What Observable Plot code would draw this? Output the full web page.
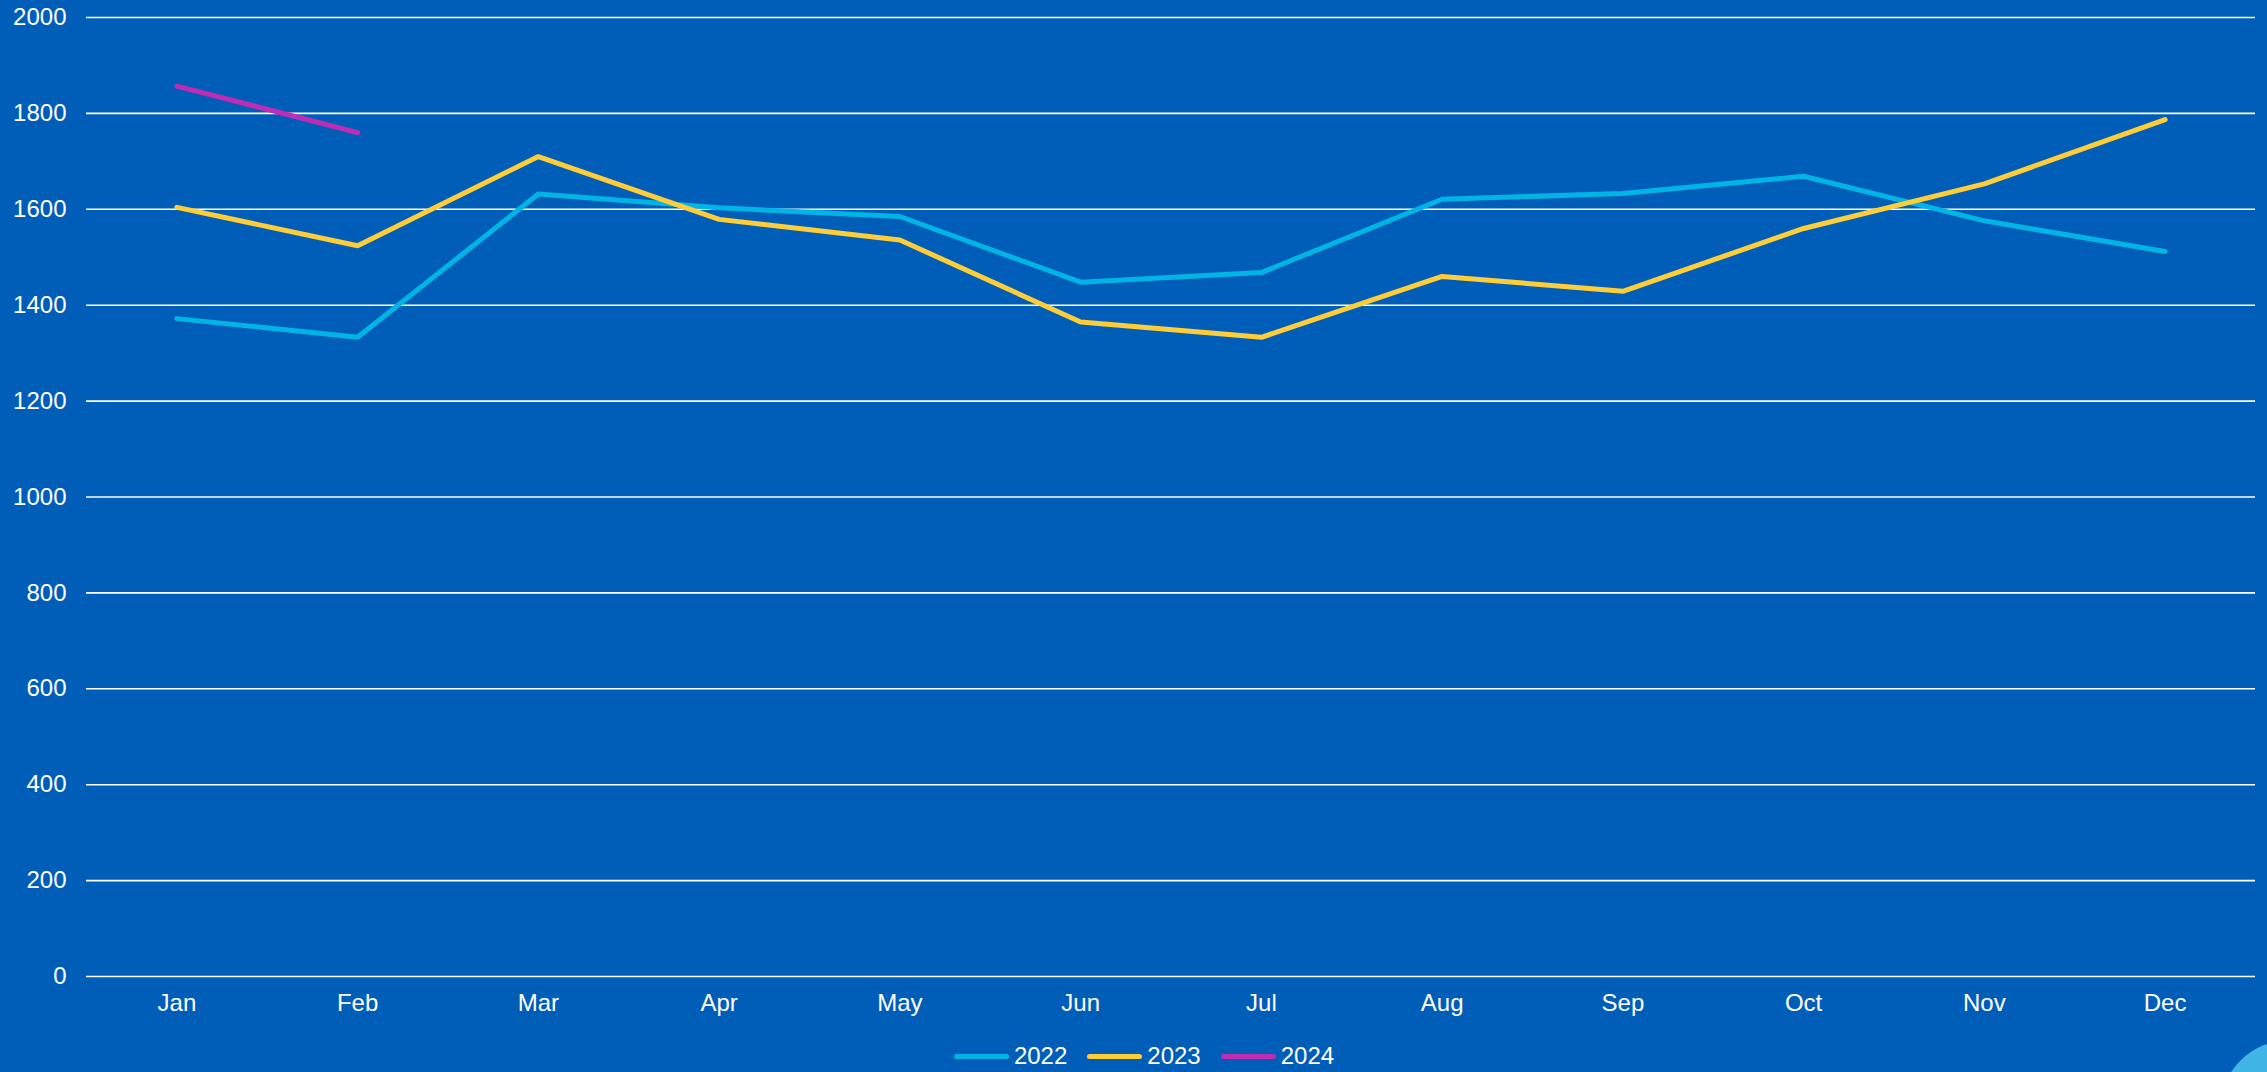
<!DOCTYPE html>
<html>
<head>
<meta charset="utf-8">
<script src="https://cdn.jsdelivr.net/npm/d3@7"></script>
<script src="https://cdn.jsdelivr.net/npm/@observablehq/plot@0.6"></script>
<style>
  html, body { margin: 0; padding: 0; background: #005EB8; width: 2267px; height: 1072px; overflow: hidden; position: relative; font-family: "Liberation Sans", Arial, sans-serif; }
  #chart svg { display: block; }
  #legend { position: absolute; left: 0; width: 2267px; top: 1040px; height: 32px; display: flex; justify-content: center; align-items: center; color: #fff; font-size: 24px; padding-left: 21px; box-sizing: border-box; }
  .item { display: flex; align-items: center; margin: 0 10px; }
  .sw { width: 55px; height: 5px; border-radius: 3px; margin-right: 5px; }
  #deco { position: absolute; left: 2220px; top: 1040px; width: 140px; height: 140px; border-radius: 50%; background: #41B6E6; }
</style>
</head>
<body>
<div id="chart"></div>
<div id="legend"></div>
<div id="deco"></div>
<script>
const months = ["Jan","Feb","Mar","Apr","May","Jun","Jul","Aug","Sep","Oct","Nov","Dec"];
const series2022 = [1372, 1333, 1632, 1603, 1585, 1448, 1468, 1621, 1633, 1669, 1576, 1512];
const series2023 = [1604, 1524, 1710, 1579, 1536, 1365, 1333, 1460, 1429, 1560, 1653, 1787];
const series2024 = [1857, 1760];
const yTicks = [0, 200, 400, 600, 800, 1000, 1200, 1400, 1600, 1800, 2000];
const seriesNames = ["2022", "2023", "2024"];
const seriesColors = ["#00B5E6", "#FFCD37", "#C12BB6"];

const allSeries = [series2022, series2023, series2024];
const rows = allSeries.flatMap((vals, i) => vals.map((v, j) => ({month: months[j], value: v, year: seriesNames[i]})));

const chart = Plot.plot({
  width: 2267,
  height: 1032,
  marginLeft: 86,
  marginRight: 12,
  marginTop: 17,
  marginBottom: 56,
  style: { background: "transparent", color: "#fff", fontFamily: "'Liberation Sans', Arial, sans-serif", fontSize: "24px" },
  x: { type: "point", domain: months, padding: 0.5, round: false, label: null },
  y: { domain: [0, 2000], label: null },
  marks: [
    Plot.ruleY(yTicks, { stroke: "#fff", strokeWidth: 1.6 }),
    Plot.axisY({ ticks: yTicks, tickFormat: d => String(d), tickSize: 0, tickPadding: 20, fontSize: 24, fill: "#fff", label: null }),
    Plot.axisX({ tickSize: 0, tickPadding: 17, fontSize: 24, fill: "#fff", label: null }),
    ...seriesNames.map((name, i) =>
      Plot.line(rows.filter(d => d.year === name), {
        x: "month", y: "value",
        stroke: seriesColors[i], strokeWidth: 5,
        strokeLinecap: "round", strokeLinejoin: "miter"
      })
    )
  ]
});
document.getElementById("chart").appendChild(chart);

const legend = document.getElementById("legend");
seriesNames.forEach((name, i) => {
  const item = document.createElement("div");
  item.className = "item";
  const sw = document.createElement("div");
  sw.className = "sw";
  sw.style.background = seriesColors[i];
  const t = document.createElement("span");
  t.textContent = name;
  item.appendChild(sw);
  item.appendChild(t);
  legend.appendChild(item);
});
</script>
</body>
</html>
